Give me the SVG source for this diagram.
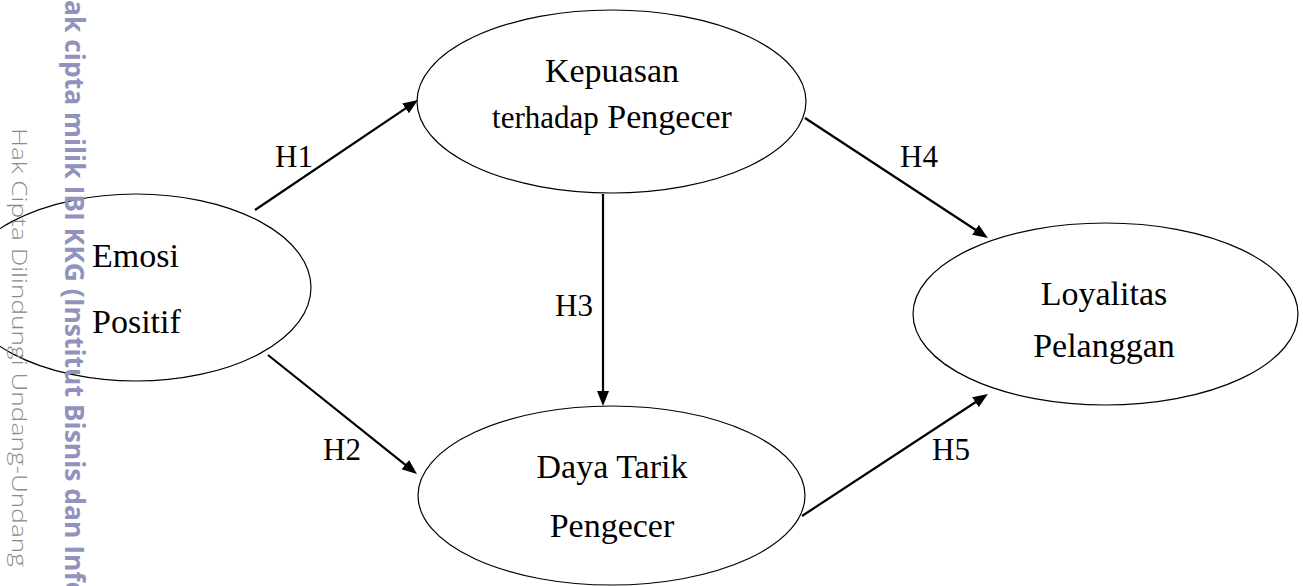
<svg xmlns="http://www.w3.org/2000/svg" width="1303" height="586" viewBox="0 0 1303 586">
  <style>
    .node { fill: none; stroke: #000; stroke-width: 1.2; }
    .lbl { font-family: "Liberation Serif", "Times New Roman", serif; font-size: 34px; fill: #000; }
    .h { font-family: "Liberation Serif", "Times New Roman", serif; font-size: 31px; fill: #000; }
    .edge { stroke: #000; stroke-width: 2.2; fill: none; marker-end: url(#arr); }
    .wm1 { font-family: "Open Sans", "Noto Sans", "DejaVu Sans", sans-serif; font-weight: 700; font-size: 26px; fill: #9293bd; }
    .wm2 { font-family: "Open Sans", "Noto Sans", "DejaVu Sans", sans-serif; font-weight: 300; font-size: 21px; fill: #8a8a8a; }
  </style>
  <defs>
    <marker id="arr" markerUnits="userSpaceOnUse" markerWidth="16" markerHeight="13" refX="5" refY="6" orient="auto">
      <path d="M0,0 L15,6 L0,12 z" fill="#000"/>
    </marker>
  </defs>
  <rect width="1303" height="586" fill="#fff"/>

  <g id="connectors">
    <line class="edge" x1="255" y1="210" x2="409.7" y2="105.6"/>
    <line class="edge" x1="268" y1="355" x2="409.2" y2="467.8"/>
    <line class="edge" x1="603" y1="194" x2="603" y2="396"/>
    <line class="edge" x1="805" y1="118" x2="979.6" y2="232.5"/>
    <line class="edge" x1="802" y1="516" x2="979.6" y2="399.5"/>
    <text class="h" x="275" y="167">H1</text>
    <text class="h" x="323" y="460">H2</text>
    <text class="h" x="555" y="316">H3</text>
    <text class="h" x="900" y="167">H4</text>
    <text class="h" x="932" y="460">H5</text>
  </g>

  <g id="emosi">
    <ellipse class="node" cx="136" cy="287.5" rx="175" ry="93.5"/>
    <text class="lbl" x="92" y="267">Emosi</text>
    <text class="lbl" x="92" y="333">Positif</text>
  </g>

  <g id="kepuasan">
    <ellipse class="node" cx="611.5" cy="101.5" rx="194.5" ry="91.5"/>
    <text class="lbl" x="612" y="82" text-anchor="middle">Kepuasan</text>
    <text class="lbl" x="612" y="128" text-anchor="middle"><tspan font-size="31px">terhadap</tspan> Pengecer</text>
  </g>

  <g id="dayatarik">
    <ellipse class="node" cx="611.5" cy="495.5" rx="193.5" ry="89.5"/>
    <text class="lbl" x="612" y="478" text-anchor="middle">Daya Tarik</text>
    <text class="lbl" x="612" y="537" text-anchor="middle">Pengecer</text>
  </g>

  <g id="loyalitas">
    <ellipse class="node" cx="1105.5" cy="314" rx="192.5" ry="91"/>
    <text class="lbl" x="1104" y="305" text-anchor="middle">Loyalitas</text>
    <text class="lbl" x="1104" y="357" text-anchor="middle">Pelanggan</text>
  </g>

  <g id="watermark">
    <text class="wm1" transform="translate(65,0) rotate(90)" x="0" y="0" textLength="598" lengthAdjust="spacingAndGlyphs">ak cipta milik IBI KKG (Institut Bisnis dan Info</text>
    <text class="wm2" transform="translate(12,128) rotate(90)" x="0" y="0" textLength="439" lengthAdjust="spacingAndGlyphs">Hak Cipta Dilindungi Undang-Undang</text>
  </g>
</svg>
